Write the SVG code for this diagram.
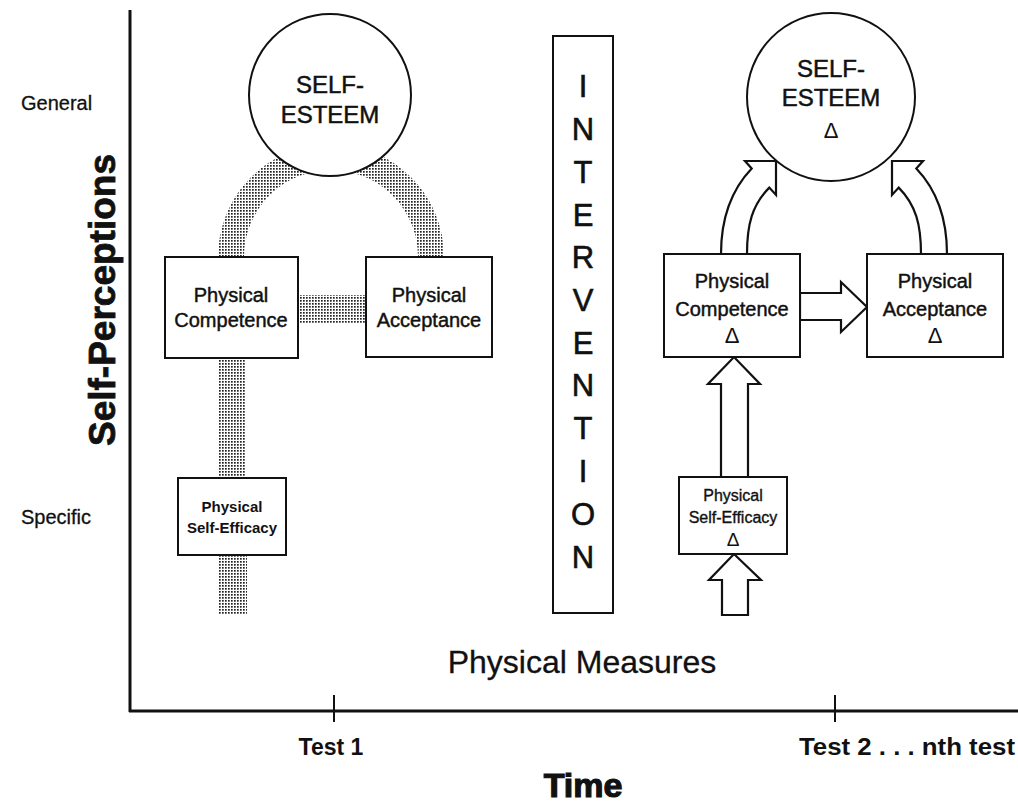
<svg xmlns="http://www.w3.org/2000/svg" width="1018" height="802" viewBox="0 0 1018 802">
<defs>
<pattern id="dots" width="3" height="3" patternUnits="userSpaceOnUse">
<rect width="3" height="3" fill="#fff"/>
<rect x="0" y="0" width="1.7" height="1.7" fill="#222"/>
</pattern>
<style>
text{font-family:"Liberation Sans",Arial,sans-serif;fill:#111}
.box{fill:#fff;stroke:#111;stroke-width:2}
.circ{fill:#fff;stroke:#111;stroke-width:2}
.arrow{fill:#fff;stroke:#111;stroke-width:2.2;stroke-linejoin:miter}
.axis{stroke:#111;stroke-width:3;fill:none}
.tick{stroke:#111;stroke-width:2}
.lbl{font-size:20px;text-anchor:middle;stroke:#111;stroke-width:0.45}
.se{font-size:24px;text-anchor:middle;stroke:#111;stroke-width:0.5}
.iv{font-size:31px;text-anchor:middle;stroke:#111;stroke-width:0.6}
.delta{font-size:22px;text-anchor:middle}
</style>
</defs>
<rect width="1018" height="802" fill="#fff"/>

<g id="axes">
<line class="axis" x1="130" y1="10" x2="130" y2="712"/>
<line class="axis" x1="129" y1="711" x2="1018" y2="711"/>
<line class="tick" x1="334" y1="695" x2="334" y2="722"/>
<line class="tick" x1="835" y1="695" x2="835" y2="722"/>
<text x="21" y="110" style="font-size:20px;stroke:#111;stroke-width:0.3">General</text>
<text x="21" y="524" style="font-size:20px;stroke:#111;stroke-width:0.3">Specific</text>
<text transform="translate(115,300) rotate(-90)" style="font-size:37px;font-weight:bold;text-anchor:middle;stroke:#111;stroke-width:0.8">Self-Perceptions</text>
<text x="582" y="673" style="font-size:32px;text-anchor:middle;stroke:#111;stroke-width:0.3">Physical Measures</text>
<text x="331" y="755" style="font-size:23px;font-weight:bold;text-anchor:middle">Test 1</text>
<text x="907" y="755" style="font-size:23px;font-weight:bold;text-anchor:middle" textLength="216" lengthAdjust="spacingAndGlyphs">Test 2 . . . nth test</text>
<text x="583" y="797" style="font-size:34px;font-weight:bold;text-anchor:middle;stroke:#111;stroke-width:1.2">Time</text>
</g>

<g id="connectors">
<path d="M231,257 A100,100 0 0 1 431,257" fill="none" stroke="url(#dots)" stroke-width="26"/>
<rect x="298" y="295" width="68" height="28" fill="url(#dots)"/>
<rect x="218" y="358" width="28" height="120" fill="url(#dots)"/>
<rect x="219" y="555" width="28" height="60" fill="url(#dots)"/>
<path class="arrow" d="M721,254 C721,215 733,188 751.7,168.4 L745,161 L776,161 L776,195 L769.3,187.6 C752,205 747,225 747,254 Z"/>
<path class="arrow" d="M947,254 C947,215 935,188 916.3,168.4 L923,161 L892,161 L892,195 L898.7,187.6 C916,205 921,225 921,254 Z"/>
<path class="arrow" d="M800,293 L841,293 L841,282 L867,307 L841,332 L841,320 L800,320 Z"/>
<path class="arrow" d="M721,477 L721,384 L708,384 L734,357 L760,384 L748,384 L748,477 Z"/>
<path class="arrow" d="M722,615 L722,580 L709,580 L734,554 L761,580 L748,580 L748,615 Z"/>
</g>

<g id="self-esteem-1">
<circle class="circ" cx="330" cy="95" r="81"/>
<text class="se" x="330" y="93">SELF-</text>
<text class="se" x="330" y="123">ESTEEM</text>
</g>

<g id="competence-1">
<rect class="box" x="165" y="257" width="133" height="101"/>
<text class="lbl" x="231" y="302">Physical</text>
<text class="lbl" x="231" y="327">Competence</text>
</g>

<g id="acceptance-1">
<rect class="box" x="366" y="257" width="126" height="100"/>
<text class="lbl" x="429" y="302">Physical</text>
<text class="lbl" x="429" y="327">Acceptance</text>
</g>

<g id="efficacy-1">
<rect class="box" x="178" y="478" width="108" height="77"/>
<text x="232" y="512" style="font-size:15px;font-weight:bold;text-anchor:middle">Physical</text>
<text x="232" y="533" style="font-size:15px;font-weight:bold;text-anchor:middle">Self-Efficacy</text>
</g>

<g id="intervention">
<rect class="box" x="553" y="36" width="60" height="577"/>
<text class="iv" x="583" y="97">I</text>
<text class="iv" x="583" y="140">N</text>
<text class="iv" x="583" y="183">T</text>
<text class="iv" x="583" y="226">E</text>
<text class="iv" x="583" y="268">R</text>
<text class="iv" x="583" y="311">V</text>
<text class="iv" x="583" y="354">E</text>
<text class="iv" x="583" y="396">N</text>
<text class="iv" x="583" y="439">T</text>
<text class="iv" x="583" y="482">I</text>
<text class="iv" x="583" y="525">O</text>
<text class="iv" x="583" y="568">N</text>
</g>

<g id="self-esteem-2">
<circle class="circ" cx="831" cy="97" r="84"/>
<text class="se" x="831" y="77">SELF-</text>
<text class="se" x="831" y="106">ESTEEM</text>
<text class="delta" x="831" y="138">Δ</text>
</g>

<g id="competence-2">
<rect class="box" x="664" y="254" width="136" height="103"/>
<text class="lbl" x="732" y="288">Physical</text>
<text class="lbl" x="732" y="316">Competence</text>
<text class="delta" x="732" y="343">Δ</text>
</g>

<g id="acceptance-2">
<rect class="box" x="867" y="254" width="136" height="103"/>
<text class="lbl" x="935" y="288">Physical</text>
<text class="lbl" x="935" y="316">Acceptance</text>
<text class="delta" x="935" y="343">Δ</text>
</g>

<g id="efficacy-2">
<rect class="box" x="679" y="477" width="108" height="77"/>
<text x="733" y="501" style="font-size:16px;text-anchor:middle;stroke:#111;stroke-width:0.35">Physical</text>
<text x="733" y="523" style="font-size:16px;text-anchor:middle;stroke:#111;stroke-width:0.35">Self-Efficacy</text>
<text class="delta" x="733" y="546" style="font-size:19px">Δ</text>
</g>
</svg>
